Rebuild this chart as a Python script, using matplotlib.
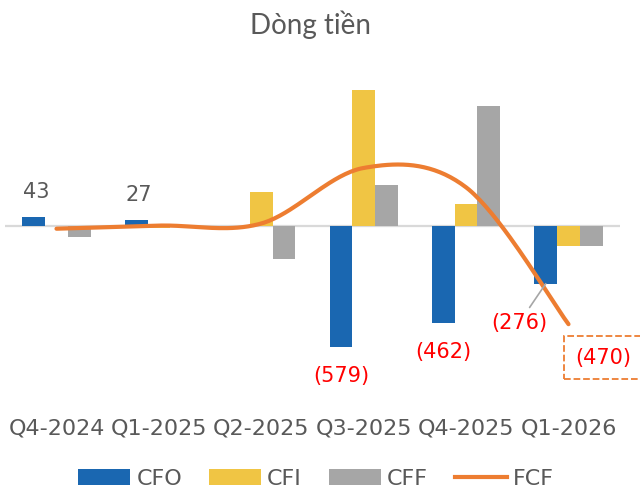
import numpy as np
import matplotlib
matplotlib.use("Agg")
import matplotlib.pyplot as plt
from matplotlib.patches import Patch
from matplotlib.lines import Line2D

# ---- data ----
categories = ["Q4-2024", "Q1-2025", "Q2-2025", "Q3-2025", "Q4-2025", "Q1-2026"]
cfo = [43, 27, 0, -579, -462, -276]
cfi = [0, -10, 163, 649, 104, -97]
cff = [-54, 0, -156, 194, 573, -97]
fcf = [-13, 2, 12, 278, 185, -470]

C_CFO = "#1A67B1"
C_CFI = "#F0C544"
C_CFF = "#A6A6A6"
C_FCF = "#ED7D31"
TXT = "#595959"
RED = "#FF0000"

plt.rcParams["font.family"] = ["DejaVu Sans"]

fig = plt.figure(figsize=(6.4, 4.9), dpi=100)
W, H = 640, 490
ax_left, ax_right, ax_top, ax_bot = 5.3, 619.7, 80, 400
ax = fig.add_axes([ax_left / W, 1 - ax_bot / H, (ax_right - ax_left) / W, (ax_bot - ax_top) / H])

x = np.arange(len(categories))
w = 0.2222
ax.bar(x - w, cfo, w, color=C_CFO, zorder=3)
ax.bar(x, cfi, w, color=C_CFI, zorder=3)
ax.bar(x + w, cff, w, color=C_CFF, zorder=3)
ax.axhline(0, color="#D9D9D9", lw=1.6, zorder=2)


def catmull_rom(xs, ys, n=40):
    xs = np.asarray(xs, float)
    ys = np.asarray(ys, float)
    px = np.concatenate([[xs[0]], xs, [xs[-1]]])
    py = np.concatenate([[ys[0]], ys, [ys[-1]]])
    outx, outy = [], []
    t = np.linspace(0, 1, n)
    for i in range(1, len(px) - 2):
        p0x, p1x, p2x, p3x = px[i - 1:i + 3]
        p0y, p1y, p2y, p3y = py[i - 1:i + 3]
        b1x, b1y = p1x + (p2x - p0x) / 6, p1y + (p2y - p0y) / 6
        b2x, b2y = p2x - (p3x - p1x) / 6, p2y - (p3y - p1y) / 6
        bx = (1 - t) ** 3 * p1x + 3 * (1 - t) ** 2 * t * b1x + 3 * (1 - t) * t ** 2 * b2x + t ** 3 * p2x
        by = (1 - t) ** 3 * p1y + 3 * (1 - t) ** 2 * t * b1y + 3 * (1 - t) * t ** 2 * b2y + t ** 3 * p2y
        outx.extend(bx)
        outy.extend(by)
    return np.array(outx), np.array(outy)


sx, sy = catmull_rom(x, fcf)
ax.plot(sx, sy, color=C_FCF, lw=3, solid_capstyle="round", zorder=4)

ax.set_xlim(-0.5, len(categories) - 0.5)
ax.set_ylim(-833, 699)
for s in ax.spines.values():
    s.set_visible(False)
ax.set_yticks([])
ax.set_xticks(x, categories)
ax.tick_params(axis="x", length=0, pad=13.5, labelsize=16, labelcolor=TXT)


def fmt(v):
    return f"({abs(v):,})" if v < 0 else f"{v:,}"


# CFO data labels
for i, v in enumerate(cfo):
    if v == 0:
        continue
    xi = x[i] - w
    if v > 0:
        ax.annotate(fmt(v), xy=(xi, v), xytext=(2, 11), textcoords="offset points",
                    ha="center", va="bottom", fontsize=15, color=TXT, zorder=5)
    elif i == 5:
        ax.annotate(fmt(v), xy=(xi, v), xytext=(-19, -28), textcoords="offset points",
                    ha="center", va="center", fontsize=15, color=RED, zorder=5,
                    arrowprops=dict(arrowstyle="-", color="#A6A6A6", lw=1.2,
                                    shrinkA=2, shrinkB=0))
    else:
        ax.annotate(fmt(v), xy=(xi, v), xytext=(0, -21), textcoords="offset points",
                    ha="center", va="center", fontsize=15, color=RED, zorder=5)

# FCF last label with dashed box
ax.annotate(fmt(fcf[-1]), xy=(x[-1], fcf[-1]), xytext=(25, -24), textcoords="offset points",
            ha="center", va="center", fontsize=15, color=RED, zorder=5,
            bbox=dict(boxstyle="square,pad=0.55", fc="none", ec=C_FCF, ls="--", lw=1.3))

fig.text(310 / W, 1 - 34 / H, "Dòng tiền", ha="center", va="baseline",
         fontsize=20, color=TXT, family=["Lato", "DejaVu Sans"])

handles = [Patch(facecolor=C_CFO), Patch(facecolor=C_CFI), Patch(facecolor=C_CFF),
           Line2D([0], [0], color=C_FCF, lw=3)]
fig.legend(handles, ["CFO", "CFI", "CFF", "FCF"], loc="center",
           bbox_to_anchor=(316 / W, 1 - 479 / H), ncol=4, frameon=False,
           fontsize=16, handlelength=2.35, handletextpad=0.28, columnspacing=1.2,
           labelcolor=TXT)

fig.savefig("out.png", dpi=100)
